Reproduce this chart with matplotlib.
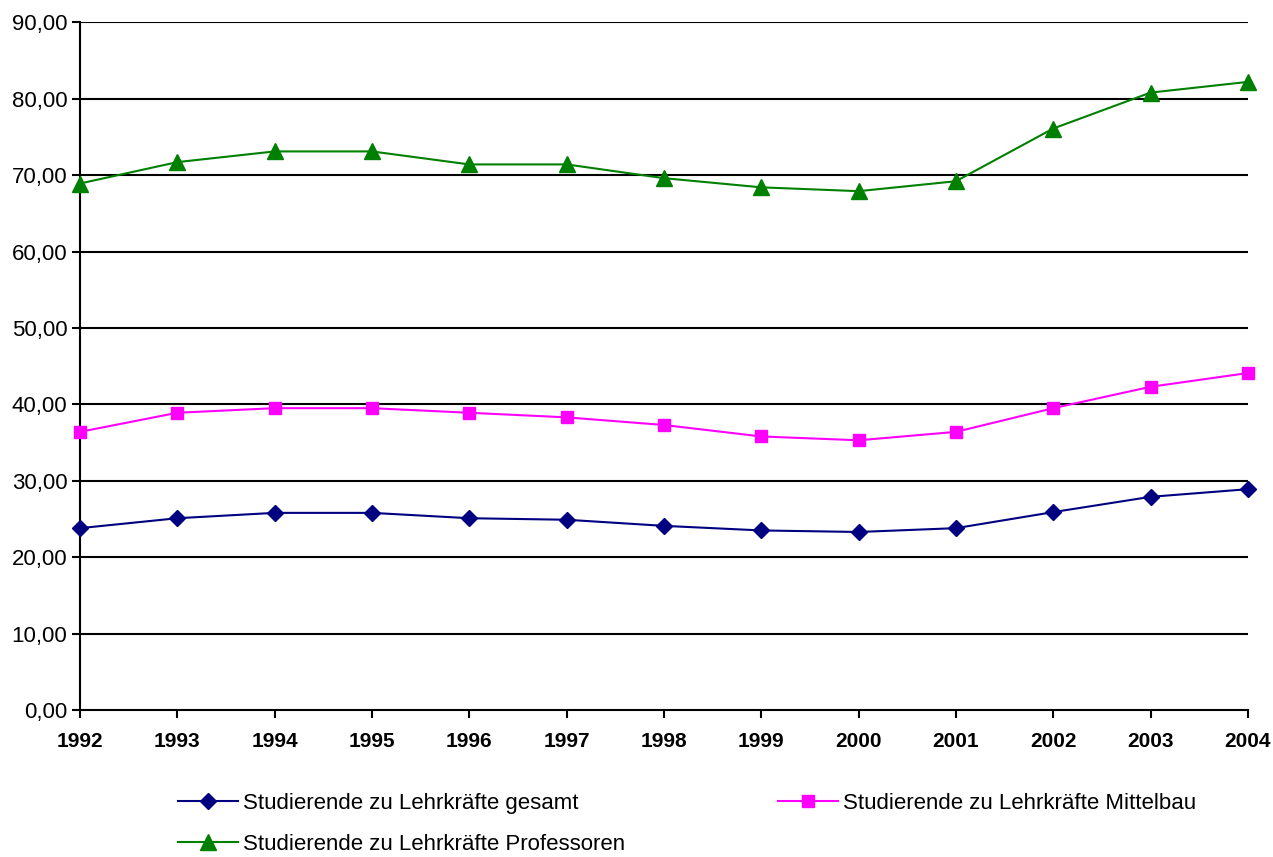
import numpy as np
import matplotlib
matplotlib.use('Agg')
import matplotlib.pyplot as plt
from matplotlib.ticker import FuncFormatter

years = [1992, 1993, 1994, 1995, 1996, 1997, 1998, 1999, 2000, 2001, 2002, 2003, 2004]
gesamt = [23.8, 25.1, 25.8, 25.8, 25.1, 24.9, 24.1, 23.5, 23.3, 23.8, 25.9, 27.9, 28.9]
mittelbau = [36.4, 38.9, 39.5, 39.5, 38.9, 38.3, 37.3, 35.8, 35.3, 36.4, 39.5, 42.3, 44.1]
professoren = [68.9, 71.7, 73.1, 73.1, 71.4, 71.4, 69.6, 68.4, 67.9, 69.2, 76.1, 80.8, 82.2]

labels = ['Studierende zu Lehrkräfte gesamt',
          'Studierende zu Lehrkräfte Mittelbau',
          'Studierende zu Lehrkräfte Professoren']

plt.rcParams['font.family'] = ['Liberation Sans', 'DejaVu Sans']

fig = plt.figure(figsize=(12.73, 8.57), dpi=100)
ax = fig.add_axes([0.0628, 0.1715, 0.9175, 0.8025])

l1, = ax.plot(years, gesamt, color='#000080', marker='D', markersize=8, lw=1.5,
              label=labels[0], clip_on=False, zorder=3)
l2, = ax.plot(years, mittelbau, color='#ff00ff', marker='s', markersize=8.5, lw=1.5,
              label=labels[1], clip_on=False, zorder=3)
l3, = ax.plot(years, professoren, color='#008000', marker='^', markersize=11, lw=1.5,
              label=labels[2], clip_on=False, zorder=3)

ax.set_xlim(1992, 2004)
ax.set_ylim(0, 90)
ax.set_yticks(np.arange(0, 91, 10))
ax.set_xticks(years)
ax.yaxis.set_major_formatter(FuncFormatter(lambda v, p: f'{v:.2f}'.replace('.', ',')))
for y in np.arange(10, 91, 10):
    ax.axhline(y, color='black', lw=1.5, zorder=1)

for s in ['top', 'right']:
    ax.spines[s].set_visible(False)
for s in ['left', 'bottom']:
    ax.spines[s].set_linewidth(1.5)

ax.tick_params(axis='y', labelsize=16, length=6, width=1.5, direction='out', pad=3)
ax.tick_params(axis='x', labelsize=15, length=6, width=1.5, direction='out', pad=10)
for t in ax.get_xticklabels():
    t.set_fontweight('bold')

# column-major fill: row 1 = gesamt, Mittelbau; row 2 = Professoren
fig.legend([l1, l3, l2], [labels[0], labels[2], labels[1]],
           loc='upper left', bbox_to_anchor=(0.14, 0.0745), ncol=2, frameon=False,
           fontsize=16, handlelength=2.7, columnspacing=6.9, labelspacing=0.9,
           handletextpad=0.2, borderpad=0, borderaxespad=0)

fig.savefig('out.png', dpi=100)
